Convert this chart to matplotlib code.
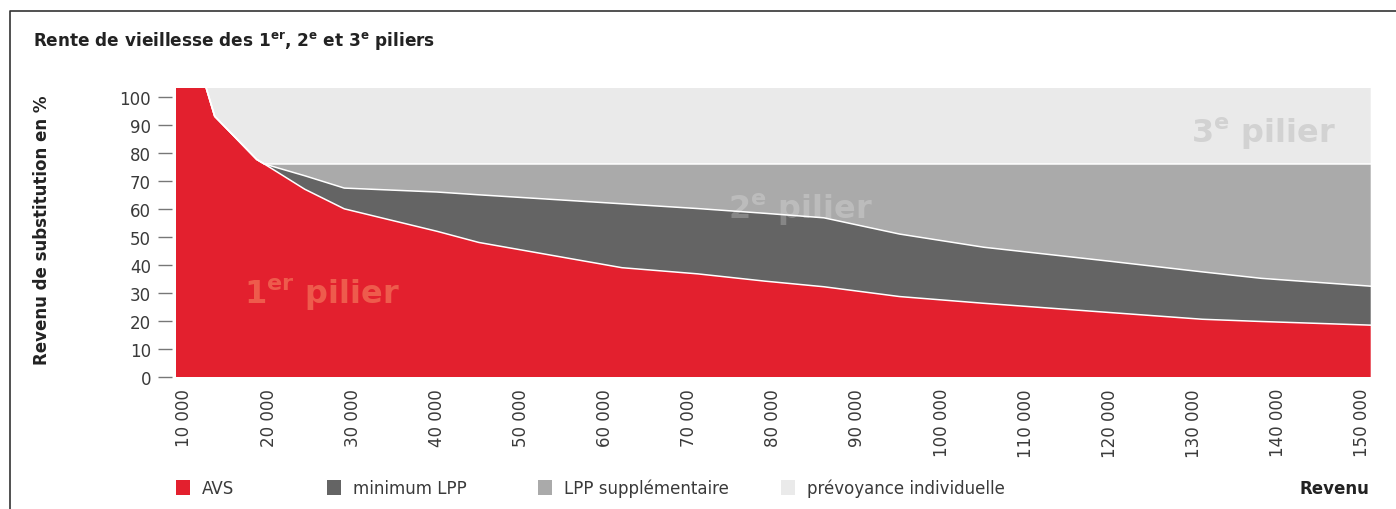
import numpy as np
import matplotlib.pyplot as plt
from matplotlib.lines import Line2D
from matplotlib.patches import Rectangle

## Data ##

# Revenu (CHF) at the kinks of the curves
revenu = [9000, 12500, 13600, 18600, 19500, 24300, 29000, 40000, 45000, 62000,
          71000, 79000, 86000, 95000, 105000, 120000, 131000, 138000, 151000]

# share of each layer in % (stacked)
avs = [104, 104, 93, 77.6, 76, 67, 60, 52, 48, 39,
       36.8, 34.2, 32.2, 28.7, 26.3, 23.0, 20.6, 19.8, 18.5]
lpp_min = [0, 0, 0, 0, 0, 4.8, 7.4, 14, 17, 22.8,
           23.3, 24.2, 24.6, 22.3, 20.0, 18.3, 16.9, 15.4, 13.9]
lpp_sup = [0, 0, 0, 0, 0, 4.2, 8.6, 10, 11, 14.2,
           15.9, 17.6, 19.2, 25.0, 29.7, 34.7, 38.5, 40.8, 43.6]
prevoyance = [0, 0, 11, 26.4, 28, 28, 28, 28, 28, 28,
              28, 28, 28, 28, 28, 28, 28, 28, 28]

series_names = ['AVS', 'minimum LPP', 'LPP supplémentaire', 'prévoyance individuelle']
colors = ['#E3202E', '#646464', '#AAAAAA', '#EAEAEA']

xticks = list(range(10000, 150001, 10000))
xlabels = [f'{v:,}'.replace(',', ' ') for v in xticks]
yticks = list(range(0, 101, 10))

## Figure ##
W, H = 1396, 510
fig = plt.figure(figsize=(W / 100, H / 100), dpi=100)
ax = fig.add_axes([176 / W, 1 - 378 / H, (1370.7 - 176) / W, (378 - 89.3) / H])

layers = [avs, lpp_min, lpp_sup, prevoyance]
ax.stackplot(revenu, layers, colors=colors, linewidth=0, zorder=1)

# white separation lines between layers
tops = np.cumsum(np.array(layers), axis=0)
for k in range(3):
    ax.plot(revenu, tops[k], color='white', lw=1.1, zorder=3)

ax.set_xlim(revenu[0], revenu[-1])
ax.set_ylim(0, 103)

for s in ax.spines.values():
    s.set_visible(False)
ax.spines['left'].set_position(('outward', 3))

ax.set_yticks(yticks)
ax.tick_params(axis='y', length=10, width=1, color='#777777', pad=5,
               labelsize=12, labelcolor='#3a3a3a')
ax.set_xticks(xticks)
ax.set_xticklabels(xlabels, rotation=90)
ax.tick_params(axis='x', length=0, pad=8, labelsize=12, labelcolor='#3a3a3a')

# pillar labels inside the areas
ax.text(17100, 29.5, r'1$^{\mathbf{er}}$ pilier', fontsize=23, fontweight='bold',
        color='#EE5B4C', va='center', ha='left', zorder=2)
ax.text(74600, 60, r'2$^{\mathbf{e}}$ pilier', fontsize=23, fontweight='bold',
        color='white', alpha=0.22, va='center', ha='left', zorder=2)
ax.text(129600, 87.2, r'3$^{\mathbf{e}}$ pilier', fontsize=23, fontweight='bold',
        color='#D2D2D2', va='center', ha='left', zorder=2)

# title and axis labels
fig.text(33 / W, 1 - 42 / H,
         r'Rente de vieillesse des 1$^{\mathbf{er}}$, 2$^{\mathbf{e}}$ et 3$^{\mathbf{e}}$ piliers',
         fontsize=12.2, fontweight='bold', color='#222222', ha='left', va='center')
fig.text(42 / W, 1 - 230 / H, 'Revenu de substitution en %', rotation=90,
         fontsize=12, fontweight='bold', color='#222222', ha='center', va='center')
fig.text(1369 / W, 1 - 489 / H, 'Revenu', fontsize=12, fontweight='bold',
         color='#222222', ha='right', va='center')

# legend along the bottom
leg_x = [176, 327, 538, 781]
for x0, name, c in zip(leg_x, series_names, colors):
    fig.add_artist(Rectangle((x0 / W, 1 - 496 / H), 14 / W, 15 / H,
                             transform=fig.transFigure, color=c, lw=0))
    fig.text((x0 + 26) / W, 1 - 489 / H, name, fontsize=12, color='#3a3a3a',
             ha='left', va='center')

# frame around the figure
fig.add_artist(Line2D([10 / W, 10 / W, 1], [0, 1 - 12 / H, 1 - 12 / H],
                      transform=fig.transFigure, color='#333333', lw=1.2))

plt.savefig('out.png', dpi=100)
